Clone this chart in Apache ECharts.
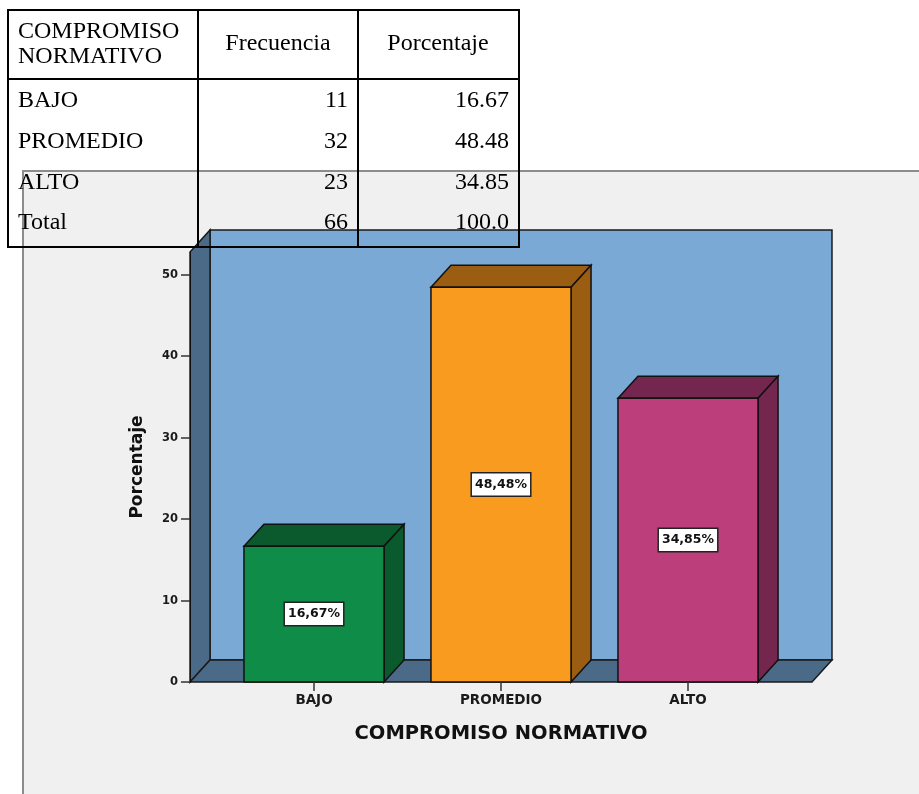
<!DOCTYPE html>
<html><head><meta charset="utf-8">
<script src="https://cdn.jsdelivr.net/npm/echarts@6/dist/echarts.min.js"></script>
<style>html,body{margin:0;padding:0;background:#fff;}#c{width:919px;height:794px;}</style>
</head><body><div id="c"></div>
<script>
var categories = ['BAJO', 'PROMEDIO', 'ALTO'];
var frecuencia = [11, 32, 23];
var porcentaje = [16.67, 48.48, 34.85];
var totalFrecuencia = 66;
var totalPorcentaje = '100.0';
var tableHeader = ['COMPROMISO\nNORMATIVO', 'Frecuencia', 'Porcentaje'];
var yTicks = [0, 10, 20, 30, 40, 50];
var yMax = 52.8;

var frontColors = ['#0f8c47', '#f99b1f', '#bc3f7c'];
var darkColors = ['#0a5a2d', '#9a5d12', '#74264e'];
var DX = 20, DY = -22;

function fmt(v) { return v.toFixed(2).replace('.', ',') + '%'; }

var chart = echarts.init(document.getElementById('c'));

// table graphic
var tbl = [];
var serif = '"Liberation Serif", "Times New Roman", serif';
var fs = 24;
tbl.push({type: 'rect', z: 100, shape: {x: 8, y: 10, width: 511, height: 237}, style: {fill: 'none', stroke: '#000', lineWidth: 2}});
tbl.push({type: 'line', z: 100, shape: {x1: 198, y1: 10, x2: 198, y2: 247}, style: {stroke: '#000', lineWidth: 2}});
tbl.push({type: 'line', z: 100, shape: {x1: 358, y1: 10, x2: 358, y2: 247}, style: {stroke: '#000', lineWidth: 2}});
tbl.push({type: 'line', z: 100, shape: {x1: 8, y1: 79, x2: 519, y2: 79}, style: {stroke: '#000', lineWidth: 2}});
tbl.push({type: 'text', z: 100, x: 18, y: 44, style: {text: tableHeader[0], font: fs + 'px ' + serif, fill: '#000', textAlign: 'left', textVerticalAlign: 'middle', lineHeight: 25}});
tbl.push({type: 'text', z: 100, x: 278, y: 44, style: {text: tableHeader[1], font: fs + 'px ' + serif, fill: '#000', textAlign: 'center', textVerticalAlign: 'middle'}});
tbl.push({type: 'text', z: 100, x: 438, y: 44, style: {text: tableHeader[2], font: fs + 'px ' + serif, fill: '#000', textAlign: 'center', textVerticalAlign: 'middle'}});
var rowY = [101, 142, 183, 223];
var rows = categories.map(function (c, i) { return [c, String(frecuencia[i]), porcentaje[i].toFixed(2)]; });
rows.push(['Total', String(totalFrecuencia), totalPorcentaje]);
rows.forEach(function (r, i) {
  tbl.push({type: 'text', z: 100, x: 18, y: rowY[i], style: {text: r[0], font: fs + 'px ' + serif, fill: '#000', textAlign: 'left', textVerticalAlign: 'middle'}});
  tbl.push({type: 'text', z: 100, x: 348, y: rowY[i], style: {text: r[1], font: fs + 'px ' + serif, fill: '#000', textAlign: 'right', textVerticalAlign: 'middle'}});
  tbl.push({type: 'text', z: 100, x: 509, y: rowY[i], style: {text: r[2], font: fs + 'px ' + serif, fill: '#000', textAlign: 'right', textVerticalAlign: 'middle'}});
});

var sans = '"DejaVu Sans", Arial, sans-serif';

chart.setOption({
  animation: false,
  backgroundColor: 'transparent',
  graphic: [
    {type: 'group', z: 0, children: [
      {type: 'rect', z: 0, shape: {x: 23, y: 171, width: 910, height: 640}, style: {fill: '#f0f0f0', stroke: '#8c8c8c', lineWidth: 2}}
    ]},
    {type: 'group', z: 100, children: tbl}
  ],
  grid: {left: 220.5, right: 137.5, top: 252, bottom: 112},
  xAxis: {
    type: 'category', data: categories,
    axisLine: {show: false},
    axisTick: {show: true, alignWithLabel: true, length: 9, lineStyle: {color: '#333', width: 1.5}},
    axisLabel: {margin: 11, color: '#1a1a1a', fontFamily: sans, fontWeight: 'bold', fontSize: 13.5},
    name: 'COMPROMISO NORMATIVO', nameLocation: 'middle', nameGap: 42,
    nameTextStyle: {color: '#111', fontFamily: sans, fontWeight: 'bold', fontSize: 19.5},
    z: 5
  },
  yAxis: {
    type: 'value', min: 0, max: yMax, offset: 30.5,
    splitLine: {show: false},
    axisLine: {show: true, lineStyle: {color: '#111', width: 1}},
    axisTick: {show: true, length: 9, customValues: yTicks, lineStyle: {color: '#333', width: 1.5}},
    axisLabel: {customValues: yTicks, margin: 12, color: '#1a1a1a', fontFamily: sans, fontWeight: 'bold', fontSize: 11.5},
    name: 'Porcentaje', nameLocation: 'middle', nameGap: 44,
    nameTextStyle: {color: '#111', fontFamily: sans, fontWeight: 'bold', fontSize: 17},
    z: 5
  },
  series: [
    {
      type: 'custom', z: 1, silent: true,
      data: [[0, 0]],
      renderItem: function (params, api) {
        var band = api.size([1, 0])[0];
        var ext = 0.663 * band;
        var left = api.coord([0, 0])[0] - ext;
        var right = api.coord([categories.length - 1, 0])[0] + ext;
        var yb = api.coord([0, 0])[1];
        var yt = api.coord([0, yMax])[1];
        var st = {stroke: '#1a1a1a', lineWidth: 1.5};
        return {type: 'group', children: [
          {type: 'polygon', shape: {points: [[left + DX, yt + DY], [right + DX, yt + DY], [right + DX, yb + DY], [left + DX, yb + DY]]}, style: Object.assign({fill: '#7ba9d6'}, st)},
          {type: 'polygon', shape: {points: [[left, yb], [left, yt], [left + DX, yt + DY], [left + DX, yb + DY]]}, style: Object.assign({fill: '#4b6a87'}, st)},
          {type: 'polygon', shape: {points: [[left, yb], [right, yb], [right + DX, yb + DY], [left + DX, yb + DY]]}, style: Object.assign({fill: '#4b6a87'}, st)}
        ]};
      }
    },
    {
      type: 'custom', z: 2, silent: true,
      data: porcentaje.map(function (v, i) { return [i, v]; }),
      renderItem: function (params, api) {
        var i = api.value(0), v = api.value(1);
        var band = api.size([1, 0])[0];
        var w = 0.749 * band;
        var top = api.coord([i, v]);
        var bot = api.coord([i, 0]);
        var xl = top[0] - w / 2, xr = top[0] + w / 2;
        var yt = top[1], yb = bot[1];
        var mid = api.coord([i, v / 2]);
        var st = {stroke: '#111', lineWidth: 1.5};
        return {type: 'group', children: [
          {type: 'polygon', shape: {points: [[xl, yt], [xr, yt], [xr + DX, yt + DY], [xl + DX, yt + DY]]}, style: Object.assign({fill: darkColors[i]}, st)},
          {type: 'polygon', shape: {points: [[xr, yt], [xr, yb], [xr + DX, yb + DY], [xr + DX, yt + DY]]}, style: Object.assign({fill: darkColors[i]}, st)},
          {type: 'rect', shape: {x: xl, y: yt, width: w, height: yb - yt}, style: Object.assign({fill: frontColors[i]}, st)},
          {type: 'text', x: mid[0], y: mid[1], style: {
            text: fmt(v), font: 'bold 12.5px ' + sans, fill: '#111', align: 'center', verticalAlign: 'middle',
            backgroundColor: '#fff', borderColor: '#222', borderWidth: 1.5, padding: [5, 3, 4, 3]
          }}
        ]};
      }
    }
  ]
});
</script></body></html>
